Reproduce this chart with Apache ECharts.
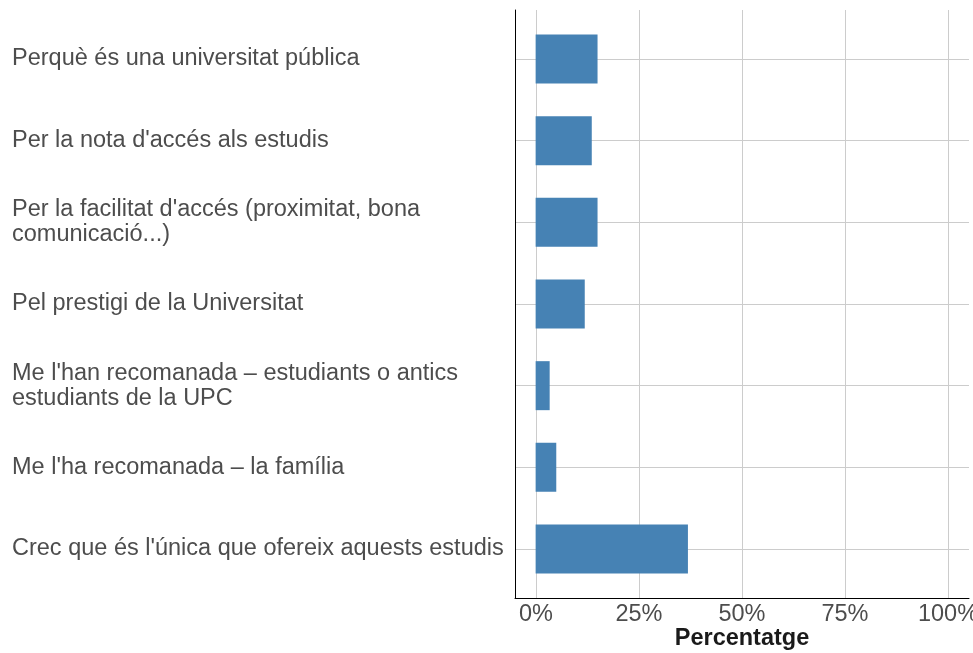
<!DOCTYPE html>
<html>
<head>
<meta charset="utf-8">
<script src="https://cdn.jsdelivr.net/npm/echarts@6/dist/echarts.min.js"></script>
<style>html,body{margin:0;padding:0;background:#fff}#c{width:973px;height:653px}</style>
</head>
<body>
<div id="c"></div>
<script>
const categories = [
  "Perquè és una universitat pública",
  "Per la nota d'accés als estudis",
  "Per la facilitat d'accés (proximitat, bona\ncomunicació...)",
  "Pel prestigi de la Universitat",
  "Me l'han recomanada – estudiants o antics\nestudiants de la UPC",
  "Me l'ha recomanada – la família",
  "Crec que és l'única que ofereix aquests estudis"
];
const values = [15.0, 13.6, 15.0, 11.9, 3.4, 5.0, 36.9];
const tickValues = [0, 25, 50, 75, 100];

const chart = echarts.init(document.getElementById('c'));
const font = 'Liberation Sans, Arial, Helvetica, sans-serif';
chart.setOption({
  animation: false,
  grid: [
    {left: 515, right: 4, top: 10, height: 588, containLabel: false, outerBoundsMode: 'none'},
    {left: 536, width: 412, top: 10, height: 588, containLabel: false, outerBoundsMode: 'none'},
    {left: 515, right: 4, top: 59, height: 490, containLabel: false, outerBoundsMode: 'none'}
  ],
  xAxis: [
    {gridIndex: 0, type: 'value', min: -5, max: 105, axisLine: {show: true, onZero: false, lineStyle: {color: '#000', width: 1}},
     axisTick: {show: false}, axisLabel: {show: false}, splitLine: {show: false}},
    {gridIndex: 1, type: 'value', min: tickValues[0], max: tickValues[tickValues.length - 1], interval: tickValues[1] - tickValues[0],
     axisLine: {show: false}, axisTick: {show: false},
     axisLabel: {formatter: '{value}%', color: '#4d4d4d', fontSize: 23.5, fontFamily: font, margin: 5, hideOverlap: false},
     splitLine: {show: true, lineStyle: {color: '#cccccc', width: 1}},
     name: 'Percentatge', nameLocation: 'middle', nameGap: 29, nameMoveOverlap: false,
     nameTextStyle: {color: '#1a1a1a', fontSize: 23.5, fontWeight: 'bold', fontFamily: font}},
    {gridIndex: 2, type: 'value', min: -5, max: 105, show: false}
  ],
  yAxis: [
    {gridIndex: 0, type: 'value', min: 0, max: 1, axisLine: {show: true, onZero: false, lineStyle: {color: '#000', width: 1}},
     axisTick: {show: false}, axisLabel: {show: false}, splitLine: {show: false}},
    {gridIndex: 1, type: 'value', show: false},
    {gridIndex: 2, type: 'category', data: categories, inverse: true, boundaryGap: false,
     axisLine: {show: false}, axisTick: {show: false},
     axisLabel: {align: 'left', margin: 503, color: '#4d4d4d', fontSize: 23.5, lineHeight: 25, fontFamily: font},
     splitLine: {show: true, lineStyle: {color: '#cccccc', width: 1}}}
  ],
  series: [{
    type: 'bar', xAxisIndex: 2, yAxisIndex: 2, data: values, barWidth: 49, clip: false,
    itemStyle: {color: '#4682b4'}
  }]
});
</script>
</body>
</html>
